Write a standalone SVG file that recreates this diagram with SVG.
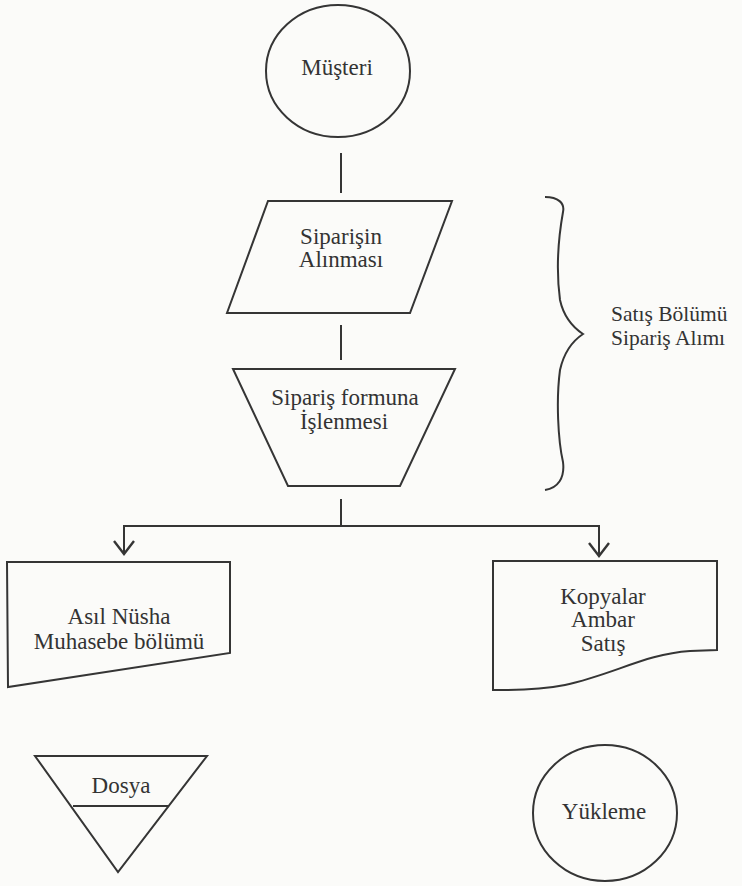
<svg xmlns="http://www.w3.org/2000/svg" width="742" height="886" viewBox="0 0 742 886">
<style>
.s{fill:none;stroke:#353535;stroke-width:2;stroke-linejoin:miter}
.c{fill:none;stroke:#353535;stroke-width:2}
text{font-family:'Liberation Serif','DejaVu Serif',serif;fill:#333}
.t{font-size:23px;text-anchor:middle}
.tl{font-size:21.5px;text-anchor:start}
</style>
<defs>
<marker id="arr" viewBox="-15 -12 17 24" refX="0" refY="0" markerWidth="17" markerHeight="24" markerUnits="userSpaceOnUse" orient="auto" overflow="visible">
<path d="M-13,-10 L0,0 L-13,10" fill="none" stroke="#353535" stroke-width="2.4"/>
</marker>
</defs>
<rect width="742" height="886" fill="#fbfbf9"/>
<g id="connectors">
<path class="c" d="M341,153 V193"/>
<path class="c" d="M341,325 V360"/>
<path class="c" d="M341,499 V526"/>
<path class="c" stroke-width="3" d="M123,526 H600"/>
<path class="c" d="M124,526 V554" marker-end="url(#arr)"/>
<path class="c" d="M599,526 V556" marker-end="url(#arr)"/>
</g>
<g id="musteri">
<ellipse class="s" cx="338" cy="71" rx="72" ry="66"/>
<text class="t" x="337" y="75" font-family="Liberation Serif, serif">Müşteri</text>
</g>
<g id="siparisin-alinmasi">
<path class="s" d="M268,201 L452,201 L410,313 L227,313 Z"/>
<text class="t" x="341" y="244" font-family="Liberation Serif, serif">Siparişin</text>
<text class="t" x="341" y="267" font-family="Liberation Serif, serif">Alınması</text>
</g>
<g id="siparis-formuna">
<path class="s" d="M233,369 L455,369 L400,486 L288,486 Z"/>
<text class="t" x="345" y="405" font-family="Liberation Serif, serif">Sipariş formuna</text>
<text class="t" x="344" y="429" font-family="Liberation Serif, serif">İşlenmesi</text>
</g>
<g id="satis-bolumu">
<path class="s" d="M545,197 C558,197 565,203 563,212 C558,240 556,270 560,300 C564,318 574,328 583,334 C574,340 564,352 560,370 C556,400 558,440 563,462 C565,478 558,488 545,490"/>
<text class="tl" x="611" y="321" font-family="Liberation Serif, serif">Satış Bölümü</text>
<text class="tl" x="611" y="345" font-family="Liberation Serif, serif">Sipariş Alımı</text>
</g>
<g id="asil-nusha">
<path class="s" d="M7,562 L230,562 L230,653 L8,687 Z"/>
<text class="t" x="119" y="624" font-family="Liberation Serif, serif">Asıl Nüsha</text>
<text class="t" x="119" y="649" font-family="Liberation Serif, serif">Muhasebe bölümü</text>
</g>
<g id="kopyalar">
<path class="s" d="M493,561 L717,561 L717,650 L690,651 C645,654 615,674 565,685 C535,691 510,690 493,690 Z"/>
<text class="t" x="603" y="604" font-family="Liberation Serif, serif">Kopyalar</text>
<text class="t" x="603" y="627" font-family="Liberation Serif, serif">Ambar</text>
<text class="t" x="603" y="651" font-family="Liberation Serif, serif">Satış</text>
</g>
<g id="dosya">
<path class="s" d="M35,756 L207,756 L118,872 Z"/>
<path class="s" d="M73,806 L169,806"/>
<text class="t" x="121" y="793" font-family="Liberation Serif, serif">Dosya</text>
</g>
<g id="yukleme">
<ellipse class="s" cx="605" cy="813" rx="72" ry="68"/>
<text class="t" x="604" y="819" font-family="Liberation Serif, serif">Yükleme</text>
</g>
</svg>
